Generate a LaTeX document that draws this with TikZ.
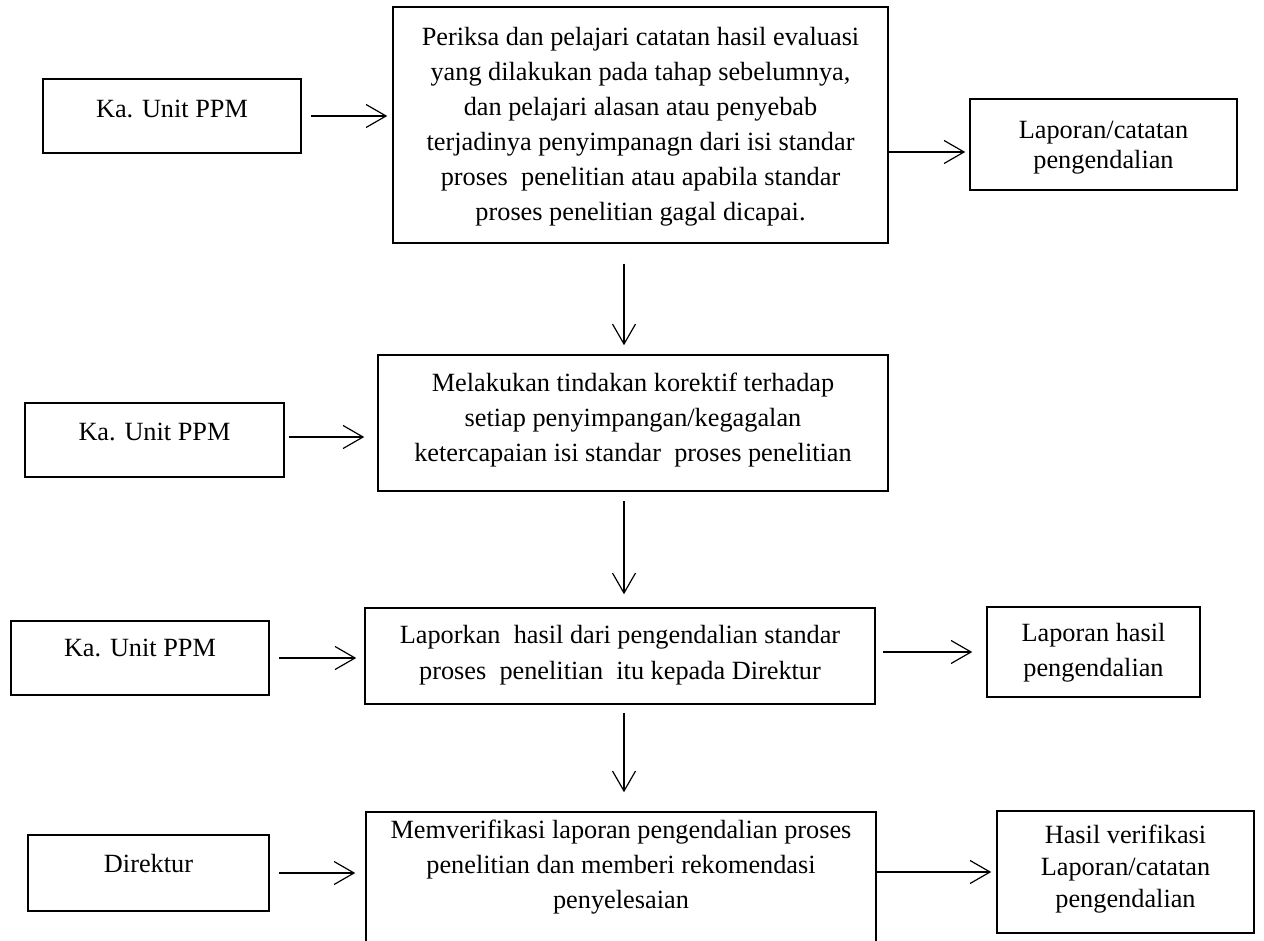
\documentclass[tikz,border=0pt]{standalone}
\usepackage{fontspec}
\setmainfont{Liberation Serif}
\usetikzlibrary{arrows.meta,calc}
\begin{document}
\begin{tikzpicture}[x=1pt,y={(0pt,-1pt)},
  box/.style={draw, line width=1.5pt, inner sep=0pt},
  lbl/.style={align=center, inner sep=0pt, font=\fontsize{26.3}{35}\selectfont},
  arr/.style={line width=1.2pt, -{Straight Barb[length=20pt,width=23pt,line width=1.2pt]}}]
\clip (0,0) rectangle (1264,941);
\useasboundingbox (0,0) rectangle (1264,941);
\fill[white] (0,0) rectangle (1264,941);
\coordinate (col) at (624,0);
% boxes
\node[box, minimum width=495pt, minimum height=236pt] (m1) at (640.5,125) {};
\node[box, minimum width=258pt, minimum height=74pt] (ka1) at (172,116) {};
\node[box, minimum width=267pt, minimum height=91pt] (o1) at (1103.5,144.5) {};
\node[box, minimum width=510pt, minimum height=136pt] (m2) at (633,423) {};
\node[box, minimum width=259pt, minimum height=74pt] (ka2) at (154.5,440) {};
\node[box, minimum width=510pt, minimum height=96pt] (m3) at (620,656) {};
\node[box, minimum width=258pt, minimum height=74pt] (ka3) at (140,658) {};
\node[box, minimum width=213pt, minimum height=90pt] (o3) at (1093.5,652) {};
\node[box, minimum width=510pt, minimum height=158pt] (m4) at (621,891) {};
\node[box, minimum width=241pt, minimum height=76pt] (dir) at (148.5,873) {};
\node[box, minimum width=257pt, minimum height=122pt] (o4) at (1125.5,872) {};
% texts
\node[lbl] (t1) at (640.5,127) {Periksa dan pelajari catatan hasil evaluasi\\yang dilakukan pada tahap sebelumnya,\\dan pelajari alasan atau penyebab\\terjadinya penyimpanagn dari isi standar\\proses\ \ penelitian atau apabila standar\\proses penelitian gagal dicapai.};
\node[lbl] (tk1) at (172,109) {Ka. Unit PPM};
\node[lbl, font=\fontsize{26.3}{30}\selectfont] (to1) at (1103.5,148) {Laporan/catatan\\pengendalian};
\node[lbl] (t2) at (633,420) {Melakukan tindakan korektif terhadap\\setiap penyimpangan/kegagalan\\ketercapaian isi standar\ \ proses penelitian};
\node[lbl] (tk2) at (154.5,432) {Ka. Unit PPM};
\node[lbl, font=\fontsize{26.3}{36}\selectfont] (t3) at (620,655) {Laporkan\ \ hasil dari pengendalian standar\\proses\ \ penelitian\ \ itu kepada Direktur};
\node[lbl] (tk3) at (140,648) {Ka. Unit PPM};
\node[lbl, font=\fontsize{26.3}{35}\selectfont] (to3) at (1093.5,653) {Laporan hasil\\pengendalian};
\node[lbl] (t4) at (621,867) {Memverifikasi laporan pengendalian proses\\penelitian dan memberi rekomendasi\\penyelesaian};
\node[lbl] (td) at (148.5,863) {Direktur};
\node[lbl, font=\fontsize{26.3}{32}\selectfont] (to4) at (1125.5,869) {Hasil verifikasi\\Laporan/catatan\\pengendalian};
% connectors
\draw[arr, shorten <=9pt, shorten >=5pt] (ka1.east) -- (ka1.east -| m1.west);
\draw[arr, shorten <=4pt, shorten >=13pt] ($(ka2.east)+(0,-3)$) -- ($(ka2.east -| m2.west)+(0,-3)$);
\draw[arr, shorten <=9pt, shorten >=8pt] (ka3.east) -- (ka3.east -| m3.west);
\draw[arr, shorten <=9pt, shorten >=10pt] (dir.east) -- (dir.east -| m4.west);
\draw[arr, shorten >=4pt] ($(o1.west -| m1.east)+(0,7.5)$) -- ($(o1.west)+(0,7.5)$);
\draw[arr, shorten <=7pt, shorten >=14pt] (o3.west -| m3.east) -- (o3.west);
\draw[arr, shorten >=5pt] (o4.west -| m4.east) -- (o4.west);
\draw[arr, shorten <=20pt, shorten >=9pt] (m1.south -| col) -- (m2.north -| col);
\draw[arr, shorten <=9pt, shorten >=13pt] (m2.south -| col) -- (m3.north -| col);
\draw[arr, shorten <=8pt, shorten >=19pt] (m3.south -| col) -- (m4.north -| col);
\end{tikzpicture}
\end{document}
